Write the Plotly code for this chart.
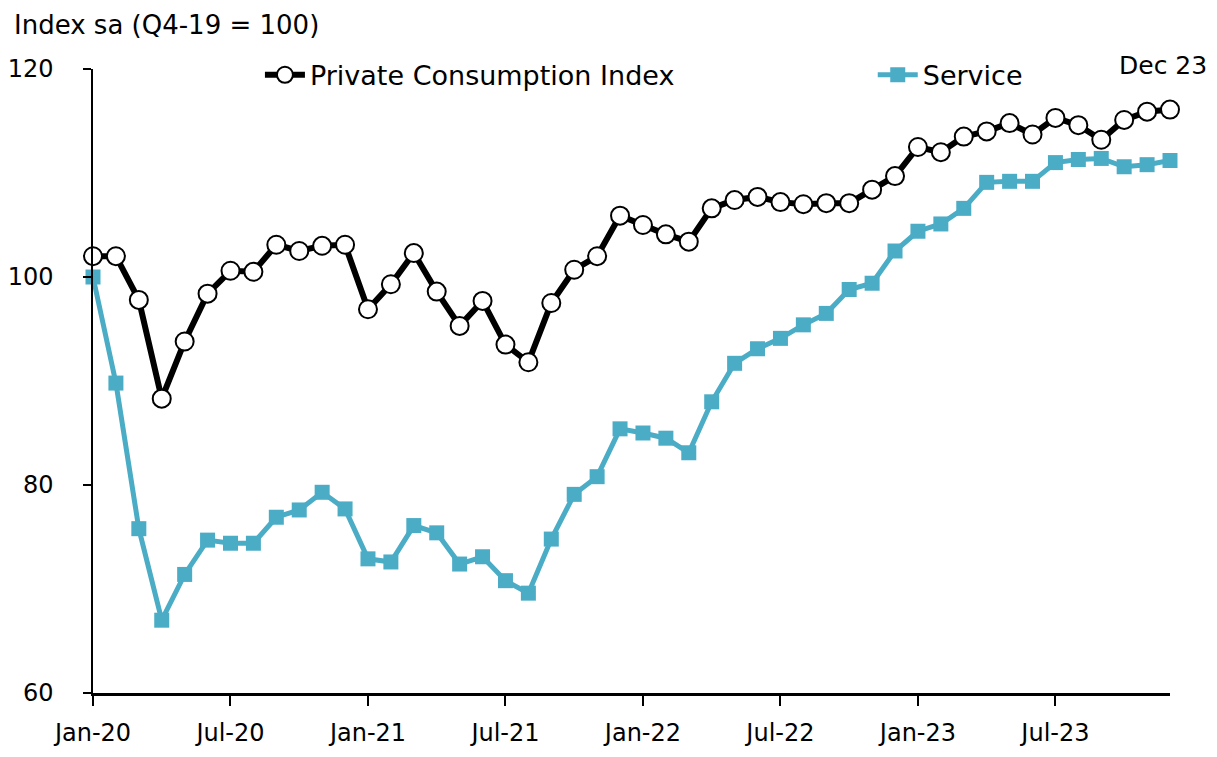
import plotly.graph_objects as go

months = list(range(48))
tick_pos = [0, 6, 12, 18, 24, 30, 36, 42]
tick_labels = ["Jan-20", "Jul-20", "Jan-21", "Jul-21", "Jan-22", "Jul-22", "Jan-23", "Jul-23"]

pci = [102.0, 102.0, 97.8, 88.3, 93.8, 98.4, 100.6, 100.5, 103.1, 102.5, 103.0, 103.1,
       96.9, 99.3, 102.3, 98.6, 95.3, 97.7, 93.5, 91.8, 97.5, 100.7, 102.0, 105.9,
       105.0, 104.1, 103.4, 106.6, 107.4, 107.7, 107.2, 107.0, 107.1, 107.1, 108.4, 109.7,
       112.5, 112.0, 113.5, 114.0, 114.8, 113.7, 115.3, 114.6, 113.2, 115.1, 115.9, 116.1]

service = [100.0, 89.8, 75.8, 67.0, 71.4, 74.7, 74.4, 74.4, 76.9, 77.6, 79.3, 77.7,
           72.9, 72.6, 76.1, 75.4, 72.4, 73.1, 70.8, 69.6, 74.8, 79.1, 80.8, 85.4,
           85.0, 84.5, 83.1, 88.0, 91.7, 93.1, 94.1, 95.4, 96.5, 98.8, 99.4, 102.5,
           104.4, 105.1, 106.6, 109.1, 109.2, 109.2, 111.0, 111.3, 111.4, 110.6, 110.8, 111.2]

FONT = "DejaVu Sans"
BLUE = "#4BACC6"

fig = go.Figure()
fig.add_trace(go.Scatter(
    x=months, y=service, name="Service", mode="lines+markers",
    line=dict(color=BLUE, width=5),
    marker=dict(symbol="square", size=15, color=BLUE),
    cliponaxis=False, legend="legend2", showlegend=True))
fig.add_trace(go.Scatter(
    x=months, y=pci, name="Private Consumption Index", mode="lines+markers",
    line=dict(color="black", width=6),
    marker=dict(symbol="circle", size=18, color="white", line=dict(color="black", width=2)),
    cliponaxis=False, legend="legend", showlegend=True))

fig.update_layout(
    width=1201, height=741,
    showlegend=True,
    paper_bgcolor="white", plot_bgcolor="white",
    margin=dict(l=85, r=39, t=61, b=56, autoexpand=False),
    font=dict(family=FONT, size=24, color="black"),
    xaxis=dict(range=[0, 47], tickvals=tick_pos, ticktext=tick_labels, automargin=False,
               showgrid=False, zeroline=False, showline=True, linecolor="black", linewidth=3,
               ticks="outside", ticklen=10, tickwidth=1.5, tickcolor="black",
               ticklabelstandoff=6, tickfont=dict(size=24)),
    yaxis=dict(range=[60, 120], tickvals=[60, 80, 100, 120], automargin=False,
               showgrid=False, zeroline=False, showline=True, linecolor="black", linewidth=1.5,
               ticks="outside", ticklen=8, tickwidth=1.5, tickcolor="black",
               ticklabelstandoff=25, tickfont=dict(size=24)),
    legend=dict(x=0.155, y=0.99, xanchor="left", yanchor="middle", bgcolor="rgba(0,0,0,0)",
                font=dict(size=27), itemwidth=40),
    legend2=dict(x=0.724, y=0.99, xanchor="left", yanchor="middle", bgcolor="rgba(0,0,0,0)",
                 font=dict(size=27), itemwidth=40),
    annotations=[
        dict(text="Index sa (Q4-19 = 100)", xref="paper", yref="paper", x=-0.0752, y=1.0705,
             xanchor="left", yanchor="middle", showarrow=False, font=dict(size=26)),
        dict(text="Dec 23", xref="paper", yref="paper", x=0.9935, y=1.005,
             xanchor="center", yanchor="middle", showarrow=False, font=dict(size=25)),
    ],
)

fig.write_html("out.html")
